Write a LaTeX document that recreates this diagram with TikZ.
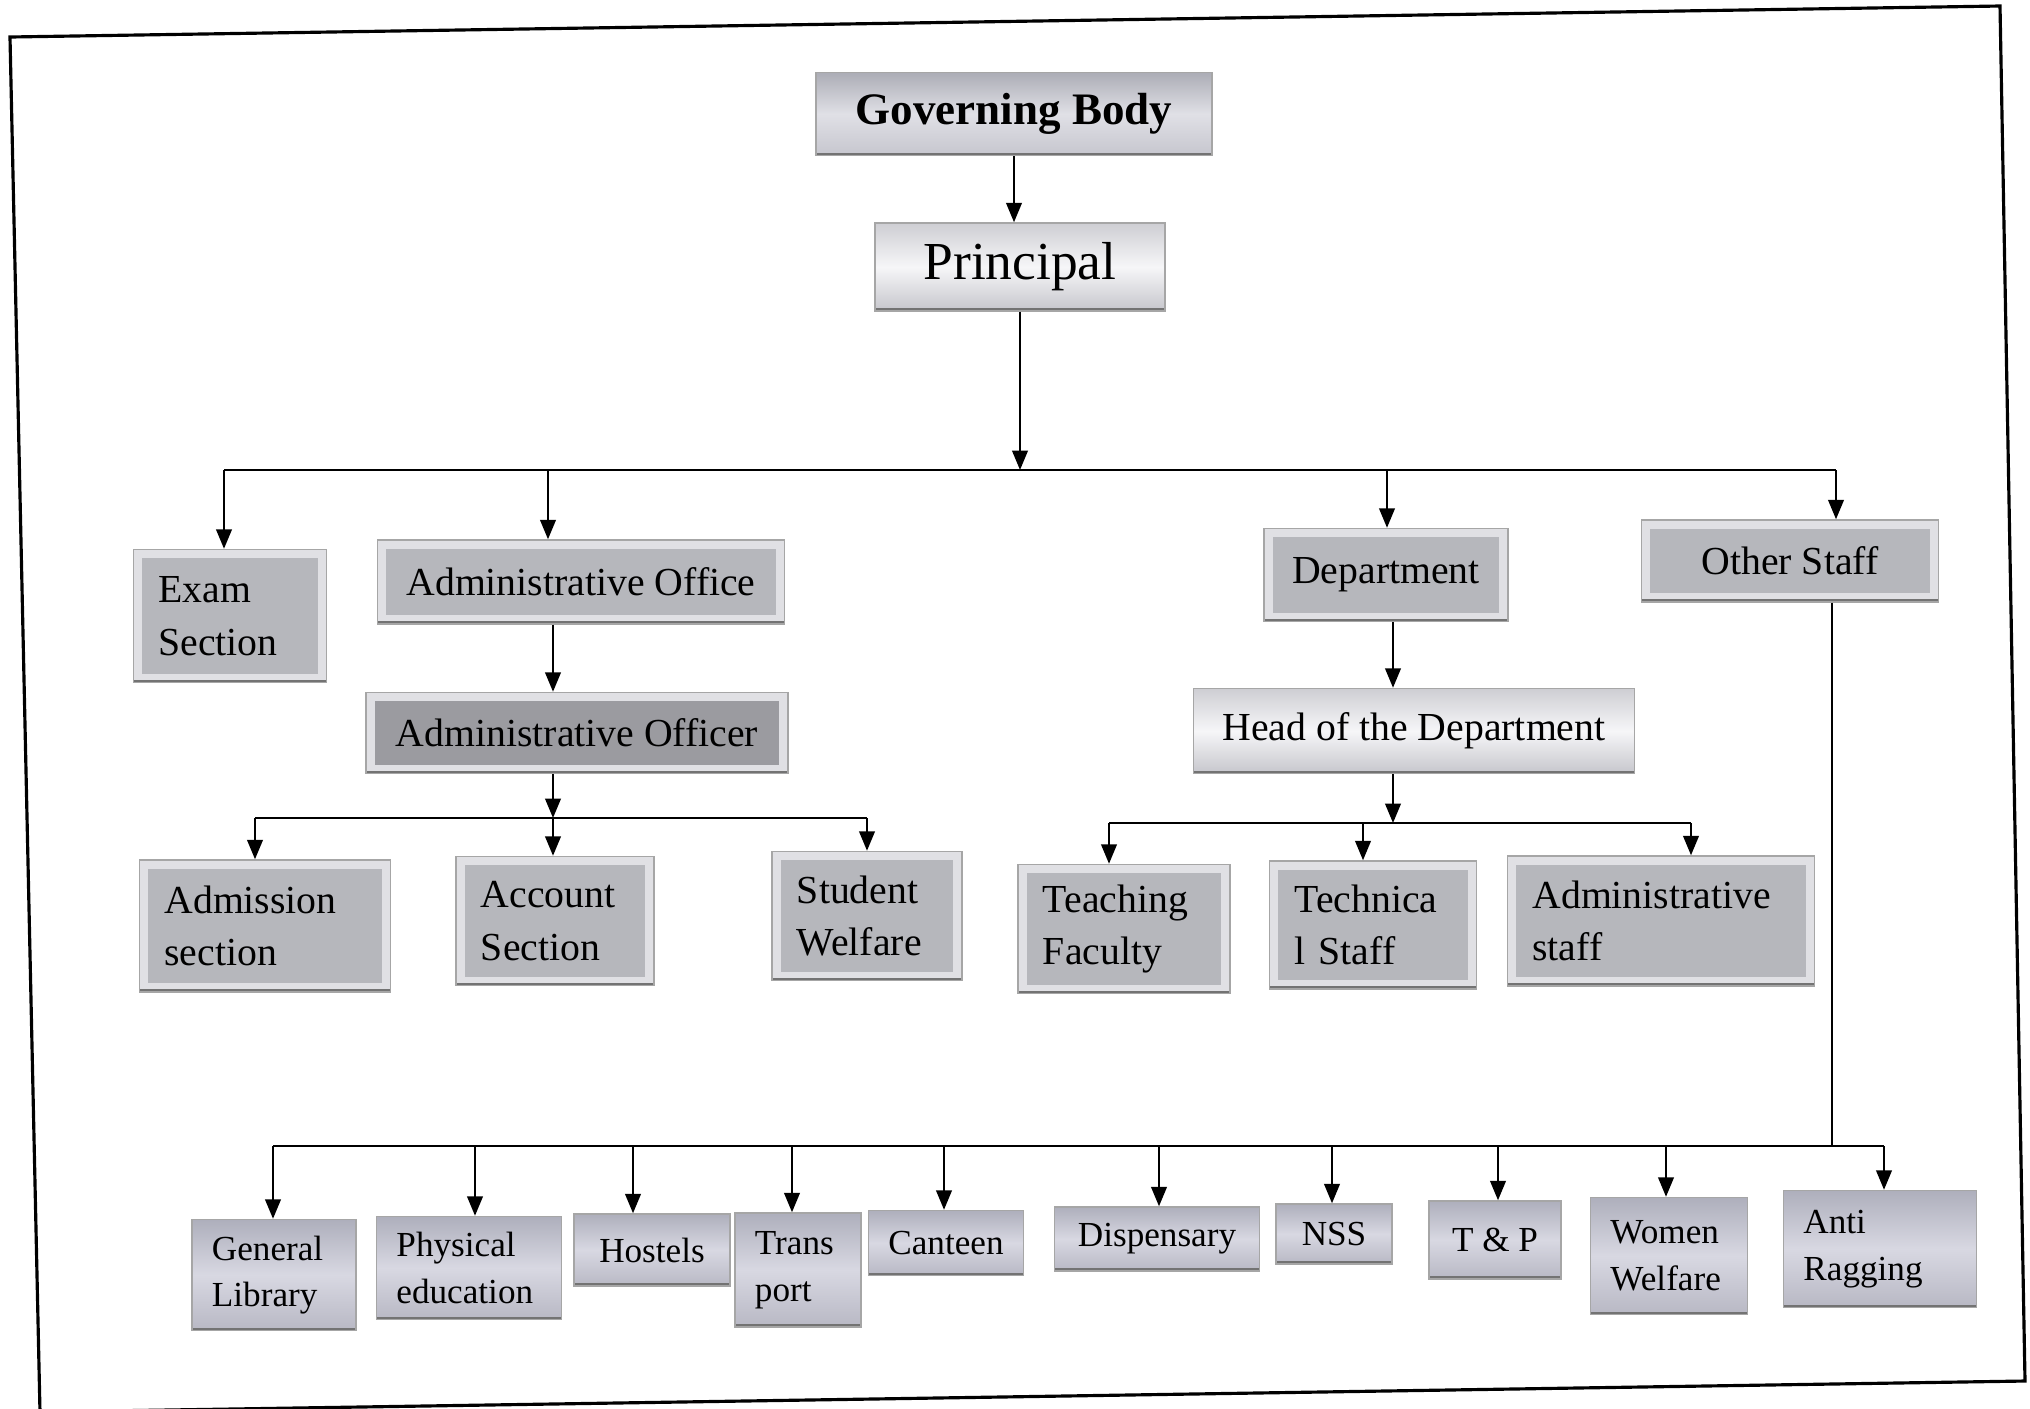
\documentclass[tikz,border=0pt]{standalone}
\usepackage{fontspec}
\setmainfont{Liberation Serif}
\usetikzlibrary{arrows.meta}
\definecolor{rimgray}{RGB}{224,224,228}
\definecolor{midgray}{RGB}{182,183,188}
\definecolor{darkgray}{RGB}{155,155,160}
\definecolor{lowtop}{RGB}{174,175,188}
\definecolor{lowmid}{RGB}{216,216,226}
\definecolor{lowbot}{RGB}{184,184,196}
\definecolor{govtop}{RGB}{172,173,182}
\definecolor{govmid}{RGB}{224,224,230}
\definecolor{govbot}{RGB}{198,198,206}
\definecolor{lighttop}{RGB}{206,206,211}
\definecolor{lightmid}{RGB}{246,246,248}
\definecolor{lightbot}{RGB}{198,198,204}

\begin{document}
\begin{tikzpicture}[x=0.01cm, y=-0.01cm,
      box/.style={draw=black!35, line width=0.4pt, inner xsep=0.25cm, inner ysep=1pt,
                  font=\fontsize{11.3}{15}\selectfont},
      edge/.style={path picture={
          \draw[line width=1.6pt, black!55] (path picture bounding box.south west)
              -- (path picture bounding box.south east);}},
      flat/.style={box, fill=rimgray, path picture={
          \fill[#1] ([shift={(2.5pt,2.5pt)}]path picture bounding box.south west)
              rectangle ([shift={(-2.5pt,-2.5pt)}]path picture bounding box.north east);
          \draw[line width=1.6pt, black!55] (path picture bounding box.south west)
              -- (path picture bounding box.south east);}},
      light/.style={box, top color=lighttop, bottom color=lightbot, middle color=lightmid, edge},
      low/.style={box, inner xsep=0.2cm, font=\fontsize{10}{13.3}\selectfont,
                  top color=lowtop, bottom color=lowbot, middle color=lowmid, edge},
      lines/.style={align=left, text width=#1},
      arr/.style={-{Triangle[length=5.5pt, width=4.4pt]}, line width=0.65pt},
      bus/.style={line width=0.65pt}]
    \useasboundingbox (0,0) rectangle (2030,1408);
    % scanned page frame
    \draw[line width=0.9pt] (10,37) -- (2000,6) -- (2025,1381) -- (40,1412) -- cycle;

    % top
    \node[box, top color=govtop, bottom color=govbot, middle color=govmid, edge,
          minimum width=3.96cm, minimum height=0.83cm,
          font=\fontsize{12.8}{15}\selectfont\bfseries] (gov) at (1014,114) {Governing Body};
    \node[light, minimum width=2.90cm, minimum height=0.88cm,
          font=\fontsize{15.2}{18}\selectfont] (prin) at (1020,267) {Principal};

    % second row
    \node[flat=midgray, lines=1.43cm, minimum height=1.33cm] (exam) at (230,616) {Exam\\Section};
    \node[flat=midgray, minimum width=4.07cm, minimum height=0.84cm] (aoff) at (581,582) {Administrative Office};
    \node[flat=midgray, minimum width=2.44cm, minimum height=0.93cm] (dept) at (1386,575) {Department};
    \node[flat=midgray, minimum width=2.97cm, minimum height=0.82cm] (other) at (1790,561) {Other Staff};

    % officers
    \node[flat=darkgray, minimum width=4.22cm, minimum height=0.81cm] (aofr) at (577,733) {Administrative Officer};
    \node[light, minimum width=4.41cm, minimum height=0.85cm] (hod) at (1414,731) {Head of the Department};

    % third row
    \node[flat=midgray, lines=2.01cm, minimum height=1.32cm] (adm) at (265,926) {Admission\\section};
    \node[flat=midgray, lines=1.48cm, minimum height=1.29cm] (acc) at (555,921) {Account\\Section};
    \node[flat=midgray, lines=1.40cm, minimum height=1.29cm] (stu) at (867,916) {Student\\Welfare};
    \node[flat=midgray, lines=1.62cm, minimum height=1.29cm] (teach) at (1124,929) {Teaching\\Faculty};
    \node[flat=midgray, lines=1.57cm, minimum height=1.28cm] (tech) at (1373,925) {Technica\\l Staff};
    \node[flat=midgray, lines=2.57cm, minimum height=1.30cm] (astaff) at (1661,921) {Administrative\\staff};

    % bottom row
    \node[low, lines=1.24cm, minimum height=1.11cm] (glib) at (274,1275) {General\\Library};
    \node[low, lines=1.45cm, minimum height=1.03cm] (phys) at (469,1268) {Physical\\education};
    \node[low, minimum width=1.56cm, minimum height=0.72cm] (hostel) at (652,1250) {Hostels};
    \node[low, lines=0.86cm, minimum height=1.14cm] (trans) at (798,1270) {Trans\\port};
    \node[low, minimum width=1.55cm, minimum height=0.65cm] (cant) at (946,1243) {Canteen};
    \node[low, minimum width=2.05cm, minimum height=0.64cm] (disp) at (1157,1239) {Dispensary};
    \node[low, minimum width=1.16cm, minimum height=0.60cm] (nss) at (1334,1234) {NSS};
    \node[low, minimum width=1.32cm, minimum height=0.78cm] (tp) at (1495,1240) {T \& P};
    \node[low, lines=1.17cm, minimum height=1.17cm] (women) at (1669,1256) {Women\\Welfare};
    \node[low, lines=1.53cm, minimum height=1.17cm] (anti) at (1880,1249) {Anti\\Ragging};

    % bus points
    \coordinate (b1) at (1020,470);
    \coordinate (b1l) at (224,470);
    \coordinate (b1a) at (548,470);
    \coordinate (b1d) at (1387,470);
    \coordinate (b1r) at (1836,470);
    \coordinate (b2) at (553,818);
    \coordinate (b2l) at (255,818);
    \coordinate (b2r) at (867,818);
    \coordinate (b3) at (1393,823);
    \coordinate (b3l) at (1109,823);
    \coordinate (b3t) at (1363,823);
    \coordinate (b3r) at (1691,823);
    \coordinate (b4) at (1832,1146);
    \coordinate (b4l) at (273,1146);
    \coordinate (b4r) at (1884,1146);

    \draw[arr] (gov) -- (gov |- prin.north);
    \draw[arr] (prin) -- (b1);
    \draw[bus] (b1l) -- (b1r);
    \draw[arr] (b1l) -- (b1l |- exam.north);
    \draw[arr] (b1a) -- (b1a |- aoff.north);
    \draw[arr] (b1d) -- (b1d |- dept.north);
    \draw[arr] (b1r) -- (b1r |- other.north);

    \draw[arr] (b2 |- aoff.south) -- (b2 |- aofr.north);
    \draw[arr] (b2 |- aofr.south) -- (b2);
    \draw[bus] (b2l) -- (b2r);
    \draw[arr] (b2l) -- (b2l |- adm.north);
    \draw[arr] (b2) -- (b2 |- acc.north);
    \draw[arr] (b2r) -- (b2r |- stu.north);

    \draw[arr] (b3 |- dept.south) -- (b3 |- hod.north);
    \draw[arr] (b3 |- hod.south) -- (b3);
    \draw[bus] (b3l) -- (b3r);
    \draw[arr] (b3l) -- (b3l |- teach.north);
    \draw[arr] (b3t) -- (b3t |- tech.north);
    \draw[arr] (b3r) -- (b3r |- astaff.north);

    \draw[bus] (b4 |- other.south) -- (b4);
    \draw[bus] (b4l) -- (b4r);
    \draw[arr] (b4l) -- (b4l |- glib.north);
    \draw[arr] (475,1146) -- (475,0 |- phys.north);
    \draw[arr] (633,1146) -- (633,0 |- hostel.north);
    \draw[arr] (792,1146) -- (792,0 |- trans.north);
    \draw[arr] (944,1146) -- (944,0 |- cant.north);
    \draw[arr] (1159,1146) -- (1159,0 |- disp.north);
    \draw[arr] (1332,1146) -- (1332,0 |- nss.north);
    \draw[arr] (1498,1146) -- (1498,0 |- tp.north);
    \draw[arr] (1666,1146) -- (1666,0 |- women.north);
    \draw[arr] (b4r) -- (b4r |- anti.north);
  \end{tikzpicture}
\end{document}
